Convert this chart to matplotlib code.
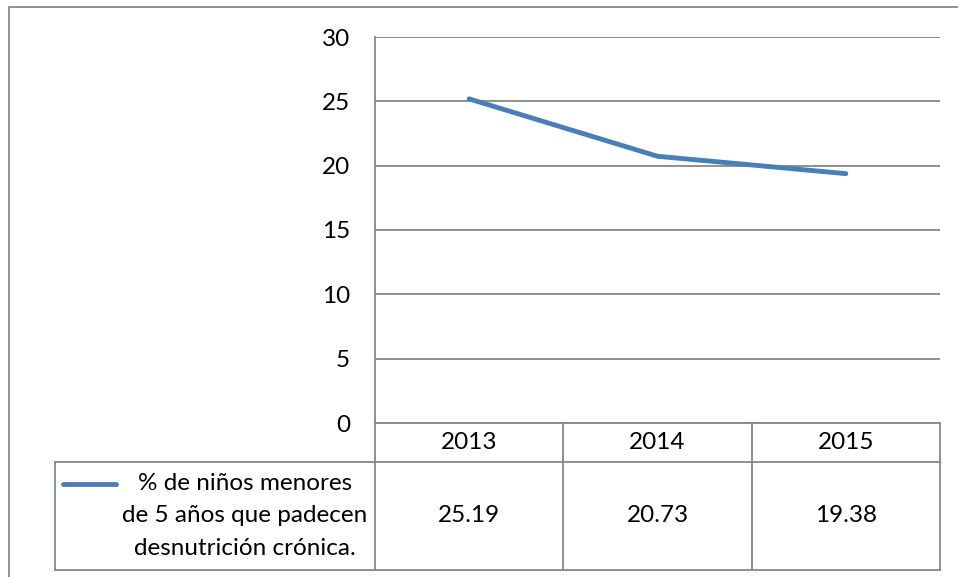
import matplotlib
matplotlib.use('Agg')
import matplotlib.pyplot as plt
from matplotlib.lines import Line2D
import matplotlib.transforms as mtransforms

years = ['2013', '2014', '2015']
values = [25.19, 20.73, 19.38]
value_labels = ['25.19', '20.73', '19.38']
series_name = '% de niños menores\nde 5 años que padecen\ndesnutrición crónica.'
yticks = [0, 5, 10, 15, 20, 25, 30]

plt.rcParams['font.family'] = ['Lato', 'DejaVu Sans']
fs = 17.5

W, H = 958, 577
fig = plt.figure(figsize=(W / 100, H / 100), dpi=100)
blue = '#4A7EBB'
grey = '#878787'

# plot area in pixels
left, right, top, bottom = 375, 940, 37, 423
ax = fig.add_axes([left / W, 1 - bottom / H, (right - left) / W, (bottom - top) / H])
ax.plot(range(len(values)), values, color=blue, lw=3.5, solid_capstyle='round', zorder=3)
ax.set_xlim(-0.5, len(values) - 0.5)
ax.set_ylim(0, 30)
ax.set_yticks(yticks)
ax.set_yticklabels([str(t) for t in yticks], fontsize=fs)
ax.tick_params(axis='y', length=0, pad=18)
ax.set_xticks([])
ax.grid(axis='y', color=grey, lw=1.3)
for s in ['top', 'right', 'bottom']:
    ax.spines[s].set_visible(False)
ax.spines['left'].set_color(grey)
ax.spines['left'].set_linewidth(1.3)

# data table under the plot
trans = mtransforms.blended_transform_factory(ax.transData, ax.transAxes)
px = 1.0 / (bottom - top)  # one pixel in axes units (vertical)
row1 = -(462 - bottom) * px
row2 = -(570 - bottom) * px
step = (right - left) / len(values)
leg_left = -0.5 - (left - 55) / step

kw = dict(transform=trans, color=grey, lw=1.3, clip_on=False)
ax.plot([-0.5, len(values) - 0.5], [0, 0], **kw)
ax.plot([-0.5, len(values) - 0.5], [row1, row1], **kw)
ax.plot([leg_left, -0.5], [row1, row1], **kw)
ax.plot([leg_left, len(values) - 0.5], [row2, row2], **kw)
ax.plot([leg_left, leg_left], [row1, row2], **kw)
for i in range(len(values) + 1):
    ax.plot([i - 0.5, i - 0.5], [0, row2], **kw)

for i, (yr, lab) in enumerate(zip(years, value_labels)):
    ax.text(i, row1 / 2, yr, transform=trans, ha='center', va='center', fontsize=fs)
    ax.text(i, (row1 + row2) / 2, lab, transform=trans, ha='center', va='center', fontsize=fs)

ax.text(-0.5 - (left - 245) / step, (row1 + row2) / 2, series_name, transform=trans,
        ha='center', va='center', multialignment='center', fontsize=fs, linespacing=1.7)
ax.plot([leg_left + 8 / step, leg_left + 61 / step], [-(484 - bottom) * px] * 2,
        transform=trans, color=blue, lw=3.5, solid_capstyle='round', clip_on=False)

# chart area border (left and top)
fig.add_artist(Line2D([9 / W, 9 / W, 1], [0, 1 - 7 / H, 1 - 7 / H], color=grey, lw=1.3))

fig.savefig('out.png', dpi=100)
